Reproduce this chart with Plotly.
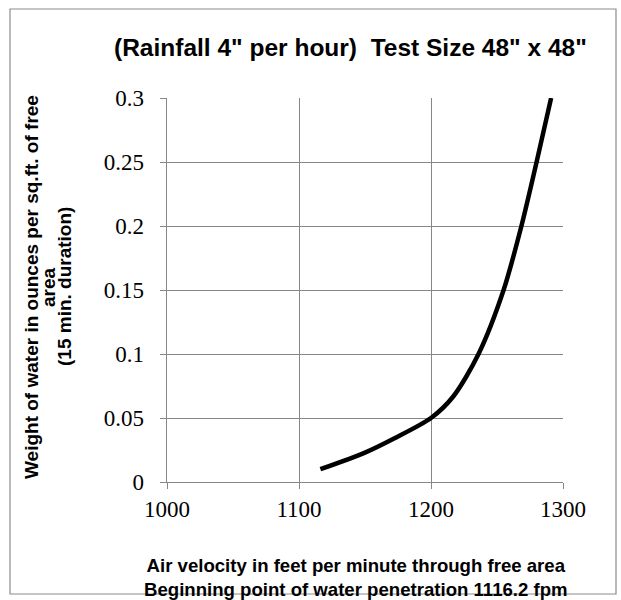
import plotly.graph_objects as go

# Data
air_velocity_fpm = [1116.2, 1150, 1172, 1200, 1217, 1236, 1255, 1268.5, 1280, 1291]
water_weight_oz = [0.01, 0.023, 0.034, 0.05, 0.067, 0.10, 0.15, 0.20, 0.25, 0.30]

x_ticks = [1000, 1100, 1200, 1300]
y_ticks = [0, 0.05, 0.1, 0.15, 0.2, 0.25, 0.3]
y_tick_labels = ["0", "0.05", "0.1", "0.15", "0.2", "0.25", "0.3"]

title_text = '(Rainfall 4" per hour)  Test Size 48" x 48"'
x_title = ("Air velocity in feet per minute through free area<br>"
           "Beginning point of water penetration 1116.2 fpm")
y_title_lines = ["Weight of water in ounces per sq.ft. of free",
                 "area",
                 "(15 min. duration)"]

W, H = 621, 600
L, R, T, B = 167, 563, 98, 482  # plot area bounds in page pixels


def px_x(p):
    return (p - L) / (R - L)


def px_y(p):
    return (B - p) / (B - T)


grid = "#878787"
sans = "Liberation Sans, Arial, sans-serif"
serif = "Liberation Serif, Times New Roman, serif"
pad = "\u00a0\u00a0"

fig = go.Figure()
fig.add_trace(go.Scatter(
    x=air_velocity_fpm, y=water_weight_oz, mode="lines",
    line=dict(color="black", width=4.5, shape="spline", smoothing=0.8),
    hoverinfo="skip", showlegend=False,
))

annotations = [
    dict(text=title_text, xref="paper", yref="paper",
         x=px_x(350), y=px_y(47), xanchor="center", yanchor="middle",
         showarrow=False,
         font=dict(family=sans, size=24.5, color="black", weight="bold")),
    dict(text=x_title, xref="paper", yref="paper",
         x=px_x(356), y=px_y(577), xanchor="center", yanchor="middle",
         showarrow=False, align="center",
         font=dict(family=sans, size=18.6, color="black", weight="bold")),
]
for txt, xpix in zip(y_title_lines, [31, 48, 64]):
    annotations.append(dict(
        text=txt, xref="paper", yref="paper",
        x=px_x(xpix), y=px_y(287), xanchor="center", yanchor="middle",
        showarrow=False, textangle=-90,
        font=dict(family=sans, size=19, color="black", weight="bold")))

fig.update_layout(
    width=W, height=H,
    margin=dict(l=L, r=W - R, t=T, b=H - B, pad=0),
    paper_bgcolor="white", plot_bgcolor="white",
    showlegend=False,
    xaxis=dict(
        range=[1000, 1300], tickvals=x_ticks, ticktext=[str(v) for v in x_ticks],
        showgrid=True, gridcolor=grid, gridwidth=1,
        showline=True, linecolor=grid, linewidth=1,
        ticks="outside", ticklen=6, tickcolor=grid,
        tickfont=dict(family=serif, size=23, color="black"),
        zeroline=False, fixedrange=True,
    ),
    yaxis=dict(
        range=[0, 0.3], tickvals=y_ticks,
        ticktext=[t + pad for t in y_tick_labels],
        showgrid=True, gridcolor=grid, gridwidth=1,
        showline=True, linecolor=grid, linewidth=1,
        ticks="outside", ticklen=6, tickcolor=grid,
        tickfont=dict(family=serif, size=23, color="black"),
        zeroline=False, fixedrange=True,
    ),
    shapes=[
        dict(type="rect", xref="paper", yref="paper",
             x0=px_x(10), x1=px_x(616), y0=px_y(594), y1=px_y(9),
             line=dict(color="#8c8c8c", width=1.2), layer="below"),
    ],
    annotations=annotations,
)

fig.write_html("out.html",
               config={"displayModeBar": False},
               post_script="document.body.style.margin='0';"
                           "document.body.style.overflow='hidden';")
